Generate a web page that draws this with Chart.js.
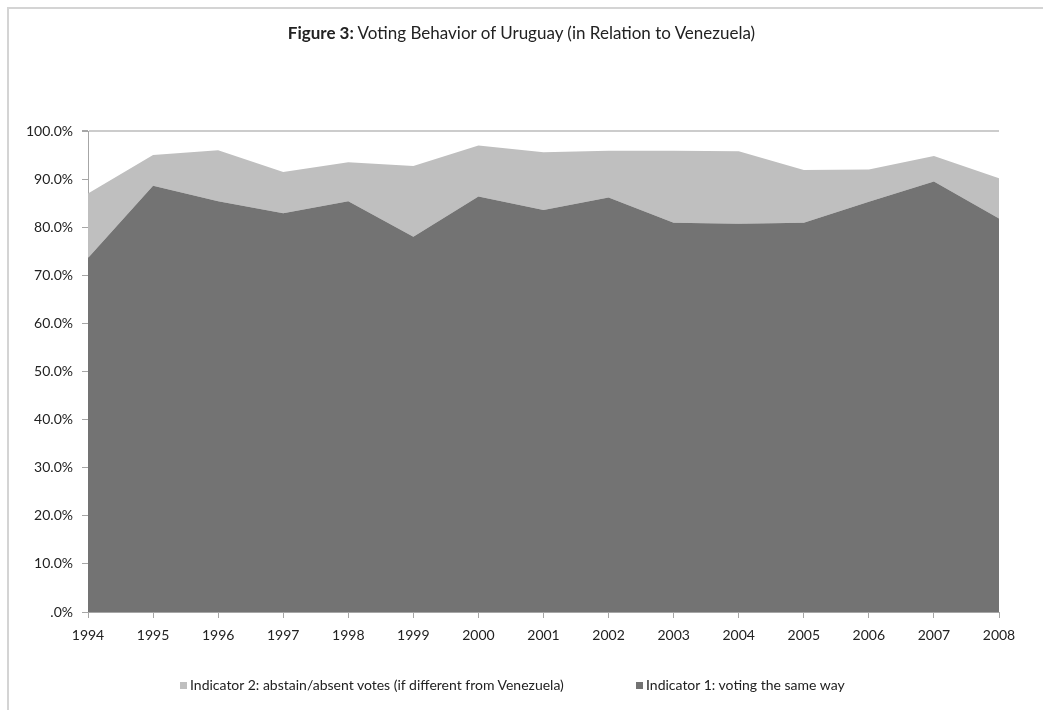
<!DOCTYPE html>
<html>
<head>
<meta charset="utf-8">
<script src="https://cdn.jsdelivr.net/npm/chart.js@4.4.1/dist/chart.umd.min.js"></script>
<style>
  html, body { margin: 0; padding: 0; background: #fff; }
  #wrap { position: relative; width: 1043px; height: 710px; overflow: hidden; font-family: Lato, "Open Sans", sans-serif; color: #222; }
  #frame { position: absolute; left: 7px; top: 7px; width: 1100px; height: 800px; border-left: 2px solid #d4d4d4; border-top: 2px solid #d4d4d4; }
  #title { position: absolute; left: 0; width: 1043px; top: 22px; text-align: center; font-size: 17px; }
  #title b { font-weight: bold; }
  #legend { position: absolute; top: 676px; left: 0; width: 1043px; font-size: 14px; }
  .item { position: absolute; white-space: nowrap; line-height: 18px; }
  .box { display: inline-block; width: 7px; height: 7px; margin-right: 3px; vertical-align: 1px; }
  canvas { position: absolute; left: 0; top: 0; }
</style>
</head>
<body>
<div id="wrap">
  <div id="frame"></div>
  <canvas id="c" width="1043" height="710"></canvas>
  <div id="title"><b>Figure 3:</b> Voting Behavior of Uruguay (in Relation to Venezuela)</div>
  <div id="legend"></div>
</div>
<script>
const years = ['1994','1995','1996','1997','1998','1999','2000','2001','2002','2003','2004','2005','2006','2007','2008'];
const indicator1 = [73.6, 88.6, 85.4, 82.9, 85.4, 78.0, 86.4, 83.6, 86.2, 80.9, 80.7, 80.9, 85.3, 89.5, 81.8];
const indicator2 = [13.4, 6.4, 10.6, 8.6, 8.1, 14.7, 10.6, 12.0, 9.7, 15.0, 15.1, 11.0, 6.7, 5.3, 8.4];
const label1 = 'Indicator 1: voting the same way';
const label2 = 'Indicator 2: abstain/absent votes (if different from Venezuela)';
const color1 = '#737373';
const color2 = '#bfbfbf';

const chart = new Chart(document.getElementById('c'), {
  type: 'line',
  data: {
    labels: years,
    datasets: [
      { label: label1, data: indicator1, backgroundColor: color1, borderColor: color1, borderWidth: 0, fill: 'origin', pointRadius: 0, tension: 0 },
      { label: label2, data: indicator2, backgroundColor: color2, borderColor: color2, borderWidth: 0, fill: '-1', pointRadius: 0, tension: 0 }
    ]
  },
  options: {
    responsive: false,
    animation: false,
    layout: { padding: { top: 131, right: 44, left: 0, bottom: 0 } },
    plugins: { legend: { display: false }, title: { display: false }, tooltip: { enabled: false } },
    scales: {
      x: {
        offset: false,
        grid: { drawOnChartArea: false, color: '#a6a6a6', tickLength: 6 },
        border: { display: true, color: '#a6a6a6' },
        ticks: { color: '#222', font: { family: 'Lato', size: 14 }, padding: 9, maxRotation: 0, autoSkip: false },
        afterFit: s => { s.height = 98; }
      },
      y: {
        stacked: true,
        min: 0, max: 100,
        grid: {
          color: ctx => (ctx.tick && ctx.tick.value === 100) ? '#cccccc' : 'rgba(0,0,0,0)',
          lineWidth: ctx => (ctx.tick && ctx.tick.value === 100) ? 2 : 1,
          tickColor: '#a6a6a6', tickLength: 6
        },
        border: { display: true, color: '#a6a6a6' },
        ticks: {
          stepSize: 10, color: '#222', font: { family: 'Lato', size: 14 }, padding: 9,
          callback: v => v === 0 ? '.0%' : v.toFixed(1) + '%'
        },
        afterFit: s => { s.width = 88; }
      }
    }
  }
});

// HTML legend built from the chart's datasets (Indicator 2 first, as in the reference)
const legendPos = [180, 636];
const legend = document.getElementById('legend');
[1, 0].forEach((idx, i) => {
  const ds = chart.data.datasets[idx];
  const el = document.createElement('div');
  el.className = 'item';
  el.style.left = legendPos[i] + 'px';
  el.innerHTML = '<span class="box" style="background:' + ds.backgroundColor + '"></span>' + ds.label;
  legend.appendChild(el);
});
</script>
</body>
</html>
